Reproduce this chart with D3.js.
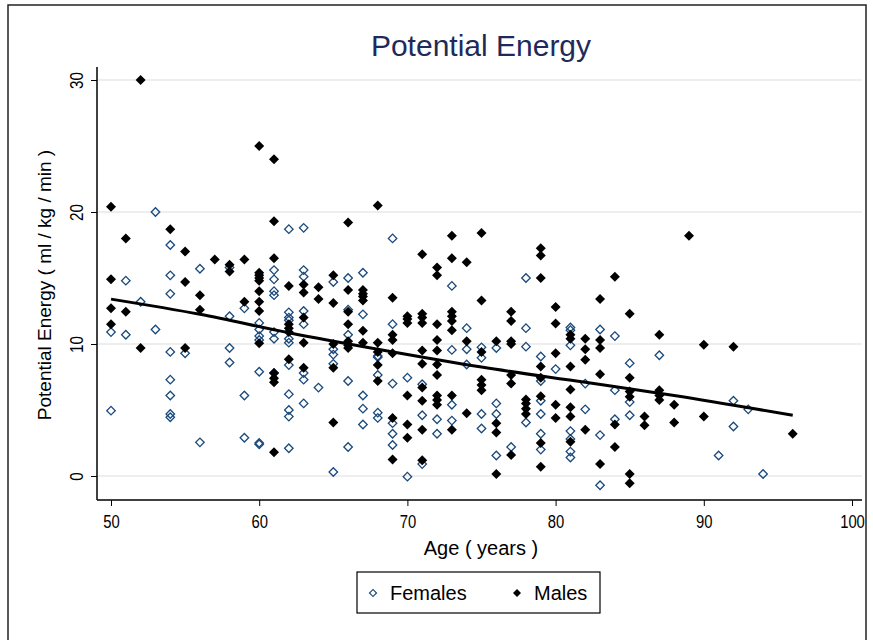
<!DOCTYPE html>
<html>
<head>
<meta charset="utf-8">
<script src="https://cdn.jsdelivr.net/npm/d3@7"></script>
<style>
  html, body { margin: 0; padding: 0; background: #fff; }
  svg { display: block; font-family: "Liberation Sans", Arial, sans-serif; }
</style>
</head>
<body>
<svg id="chart" width="873" height="640"></svg>
<script>
// ---- Data ----
const xTicks = [50, 60, 70, 80, 90, 100];
const yTicks = [0, 10, 20, 30];

// Females: [age, [potential energy values]]
const females = [
  [50, [10.9, 4.95]],
  [51, [14.8, 10.7]],
  [52, [13.2]],
  [53, [20.0, 11.1]],
  [54, [17.5, 15.2, 13.8, 9.4, 7.3, 6.1, 4.7, 4.45]],
  [55, [9.3]],
  [56, [15.7, 2.55]],
  [58, [15.8, 12.1, 9.7, 8.6]],
  [59, [12.7, 6.1, 2.9]],
  [60, [11.6, 11.1, 10.6, 10.3, 7.9, 2.5, 2.4]],
  [61, [15.6, 14.9, 14.0, 13.7, 10.9, 10.4, 7.8]],
  [62, [18.7, 12.4, 12.0, 11.8, 10.4, 10.1, 8.4, 6.2, 5.0, 4.5, 2.1]],
  [63, [18.8, 15.6, 15.1, 12.5, 11.5, 7.8, 7.3, 5.5]],
  [64, [6.7]],
  [65, [14.7, 9.6, 9.2, 8.5, 0.3]],
  [66, [15.0, 12.6, 10.7, 7.2, 2.2]],
  [67, [15.4, 12.25, 6.1, 5.1, 3.9]],
  [68, [9.1, 9.0, 7.65, 4.8, 4.4]],
  [69, [18.0, 11.5, 7.0, 4.0, 3.2, 2.35]],
  [70, [7.45, -0.05]],
  [71, [6.95, 4.6, 0.9]],
  [72, [4.3, 3.2]],
  [73, [14.4, 9.55, 5.4, 4.2]],
  [74, [11.2, 9.6, 8.45]],
  [75, [9.75, 8.95, 4.7, 3.6]],
  [76, [9.7, 5.5, 4.7, 1.55]],
  [77, [2.2]],
  [78, [15.0, 11.2, 9.8, 4.05]],
  [79, [9.05, 7.2, 5.7, 4.7, 3.2, 2.0]],
  [80, [8.1]],
  [81, [11.25, 11.05, 9.9, 3.4, 2.8, 1.85, 1.4]],
  [82, [7.0, 5.05]],
  [83, [11.1, 3.1, -0.7]],
  [84, [10.6, 6.5, 4.3]],
  [85, [8.55, 5.6, 4.6]],
  [87, [9.15]],
  [91, [1.55]],
  [92, [5.7, 3.75]],
  [93, [5.05]],
  [94, [0.15]]
];

// Males: [age, [potential energy values]]
const males = [
  [50, [20.4, 14.9, 12.7, 11.5]],
  [51, [18.0, 12.45]],
  [52, [30.0, 9.7]],
  [54, [18.7]],
  [55, [17.0, 14.7, 9.7]],
  [56, [13.7, 12.6]],
  [57, [16.4]],
  [58, [16.0, 15.5]],
  [59, [16.4, 13.2]],
  [60, [25.0, 15.4, 15.2, 15.0, 14.8, 14.0, 13.2, 12.5, 10.05]],
  [61, [24.0, 19.3, 16.5, 7.8, 7.4, 7.1, 1.8]],
  [62, [14.4, 11.5, 11.2, 10.9, 8.85]],
  [63, [14.5, 13.9, 12.0, 10.1, 8.2]],
  [64, [14.3, 13.4]],
  [65, [15.2, 13.1, 10.0, 8.2, 4.05]],
  [66, [19.2, 14.1, 12.45, 11.5, 10.2, 9.9, 9.7]],
  [67, [14.1, 13.8, 13.6, 13.3, 11.0, 10.1]],
  [68, [20.5, 10.1, 9.4, 8.4, 7.2]],
  [69, [13.5, 10.7, 10.3, 9.3, 4.4, 1.25]],
  [70, [12.1, 11.9, 11.6, 6.1, 3.9, 2.9]],
  [71, [16.8, 12.3, 12.0, 11.6, 9.5, 8.5, 6.7, 5.7, 3.5, 1.2]],
  [72, [15.8, 15.2, 11.5, 10.3, 9.5, 8.45, 7.65, 6.1, 5.75, 5.4]],
  [73, [18.2, 16.5, 12.45, 12.1, 11.75, 11.05, 6.1, 3.5]],
  [74, [16.2, 10.2, 4.75]],
  [75, [18.4, 13.3, 9.4, 7.3, 6.9, 6.5]],
  [76, [10.2, 4.0, 3.3, 0.15]],
  [77, [12.45, 11.75, 10.2, 10.0, 7.65, 7.0, 1.6]],
  [78, [5.8, 5.5, 5.1, 4.7]],
  [79, [17.25, 16.7, 15.0, 8.3, 7.45, 6.05, 2.5, 0.7]],
  [80, [12.8, 11.55, 9.3, 5.4, 4.4]],
  [81, [10.7, 10.4, 8.3, 6.55, 5.2, 4.5, 2.6]],
  [82, [10.4, 9.6, 8.8, 3.5]],
  [83, [13.4, 10.3, 9.7, 7.7, 0.9]],
  [84, [15.1, 3.9, 2.2]],
  [85, [12.3, 7.45, 6.4, 6.0, 0.15, -0.55]],
  [86, [4.5, 3.85]],
  [87, [10.7, 6.5, 6.1, 5.75]],
  [88, [5.4, 4.05]],
  [89, [18.2]],
  [90, [9.95, 4.5]],
  [92, [9.8]],
  [96, [3.2]]
];

// Fitted line
const fitAge = [50, 56, 62, 68, 75, 82, 88, 96];
const fitPE  = [13.4, 12.25, 10.85, 9.6, 8.25, 7.1, 6.1, 4.6];

const legendLabels = ["Females", "Males"];

// ---- Drawing ----
const svg = d3.select("#chart");
const femaleColor = "#1a4a7c";
const titleColor = "#1e2b5a";

const x = d3.scaleLinear().domain([50, 100]).range([111, 852]);
const y = d3.scaleLinear().domain([0, 30]).range([476, 80]);

const axisX = 97, axisY = 500;

// outer frame
svg.append("rect").attr("x", 8).attr("y", 5).attr("width", 858).attr("height", 660)
  .attr("fill", "none").attr("stroke", "#222").attr("stroke-width", 1.5);

// title
svg.append("text").attr("x", 481).attr("y", 56).attr("text-anchor", "middle")
  .attr("fill", titleColor).attr("font-size", 30).text("Potential Energy");

// gridlines
svg.append("g").selectAll("line").data(yTicks).join("line")
  .attr("x1", axisX).attr("x2", 862)
  .attr("y1", d => y(d)).attr("y2", d => y(d))
  .attr("stroke", "#dedede").attr("stroke-width", 1.2);

// y axis
const yAxis = svg.append("g").attr("transform", `translate(${axisX},0)`)
  .call(d3.axisLeft(y).tickValues(yTicks).tickSize(6).tickSizeOuter(0).tickFormat(d3.format("d")));
yAxis.select(".domain").attr("d", `M0,67V${axisY}`).attr("stroke", "#000").attr("stroke-width", 1.5);
yAxis.selectAll(".tick line").attr("stroke", "#000");
yAxis.selectAll(".tick text")
  .attr("font-size", 19).attr("font-family", "Liberation Sans, Arial, sans-serif").attr("fill", "#000")
  .attr("text-anchor", "middle")
  .attr("transform", "translate(-21,0) rotate(-90) scale(0.8,1)")
  .attr("x", 0).attr("y", 0).attr("dy", "0.35em");

// x axis
const xAxis = svg.append("g").attr("transform", `translate(0,${axisY})`)
  .call(d3.axisBottom(x).tickValues(xTicks).tickSize(6).tickSizeOuter(0).tickFormat(d3.format("d")));
xAxis.select(".domain").attr("d", `M${axisX},0H862`).attr("stroke", "#000").attr("stroke-width", 1.5);
xAxis.selectAll(".tick line").attr("stroke", "#000");
xAxis.selectAll(".tick text")
  .attr("font-size", 19).attr("font-family", "Liberation Sans, Arial, sans-serif").attr("fill", "#000")
  .attr("y", 15).attr("transform", "scale(0.78,1)");

// axis titles
svg.append("text").attr("x", 481).attr("y", 555).attr("text-anchor", "middle")
  .attr("font-size", 20).attr("fill", "#000").text("Age ( years )");
svg.append("text").attr("transform", "translate(51,285) rotate(-90)").attr("text-anchor", "middle")
  .attr("font-size", 19).attr("fill", "#000").text("Potential Energy ( ml / kg / min )");

// markers
const diamond = (w) => d3.symbol().type(d3.symbolSquare).size((w / Math.SQRT2) ** 2)();
const fPts = females.flatMap(([a, vs]) => vs.map(v => ({a, v})));
const mPts = males.flatMap(([a, vs]) => vs.map(v => ({a, v})));

svg.append("g").selectAll("path").data(fPts).join("path")
  .attr("d", diamond(8.5))
  .attr("transform", d => `translate(${x(d.a)},${y(d.v)}) rotate(45)`)
  .attr("fill", "none").attr("stroke", femaleColor).attr("stroke-width", 1.3);

svg.append("g").selectAll("path").data(mPts).join("path")
  .attr("d", diamond(10))
  .attr("transform", d => `translate(${x(d.a)},${y(d.v)}) rotate(45)`)
  .attr("fill", "#000");

// fit line
svg.append("path").datum(fitAge.map((a, i) => [a, fitPE[i]]))
  .attr("d", d3.line().x(d => x(d[0])).y(d => y(d[1])).curve(d3.curveMonotoneX))
  .attr("fill", "none").attr("stroke", "#000").attr("stroke-width", 3);

// legend
const lg = svg.append("g");
lg.append("rect").attr("x", 357).attr("y", 572).attr("width", 243).attr("height", 41)
  .attr("fill", "#fff").attr("stroke", "#000").attr("stroke-width", 1.2);
lg.append("path").attr("d", diamond(7)).attr("transform", "translate(373,593) rotate(45)")
  .attr("fill", "none").attr("stroke", femaleColor).attr("stroke-width", 1.2);
lg.append("path").attr("d", diamond(8)).attr("transform", "translate(517,593) rotate(45)")
  .attr("fill", "#000");
lg.append("text").attr("x", 390).attr("y", 600).attr("font-size", 20).attr("fill", "#000").text(legendLabels[0]);
lg.append("text").attr("x", 534).attr("y", 600).attr("font-size", 20).attr("fill", "#000").text(legendLabels[1]);
</script>
</body>
</html>
